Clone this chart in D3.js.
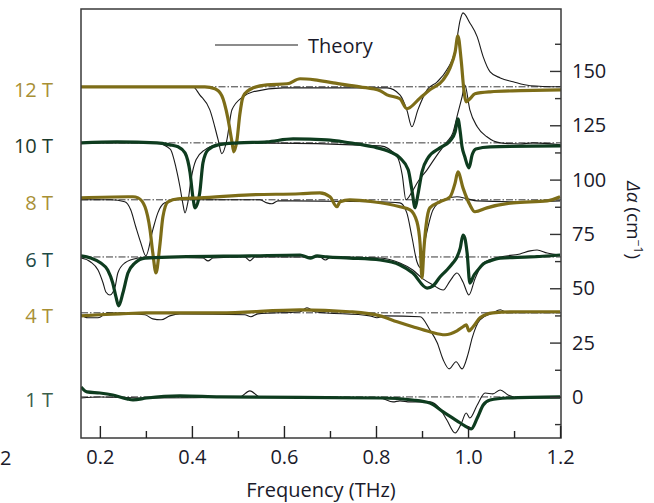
<!DOCTYPE html>
<html>
<head>
<meta charset="utf-8">
<script src="https://cdn.jsdelivr.net/npm/d3@7"></script>
<style>
  body { margin: 0; background: #fff; }
  text { font-family: "Open Sans", "Noto Sans", sans-serif; }
</style>
</head>
<body>
<svg id="chart" width="654" height="503"></svg>
<script>
// field labels and the vertical offset of each trace (cm^-1)
var fields = ["12 T", "10 T", "8 T", "6 T", "4 T", "1 T"];
var offsets = [142.7, 116.9, 90.7, 64.4, 38.7, 0];

var xTicks = [0.2, 0.4, 0.6, 0.8, 1.0, 1.2];
var xMinor = [0.3, 0.5, 0.7, 0.9, 1.1];
var yTicks = [0, 25, 50, 75, 100, 125, 150];
var yMinor = [-12.5, 12.5, 37.5, 62.5, 87.5, 112.5, 137.5, 162.5];

// [frequency THz, delta alpha relative to the trace baseline]
var exp12 = [[0.159,0],[0.309,0],[0.428,0],[0.450,-0.9],[0.465,-4.1],[0.478,-14.3],[0.487,-25.3],[0.491,-29.9],[0.498,-24.4],[0.504,-12.9],[0.511,-4.6],[0.522,-1.8],[0.533,-0.5],[0.563,0.9],[0.607,1.4],[0.635,3.7],[0.667,3.2],[0.707,1.8],[0.765,0],[0.809,-1.8],[0.824,-3.7],[0.852,-5.5],[0.867,-10.1],[0.896,-5.1],[0.917,-1.4],[0.946,3.2],[0.961,8.7],[0.972,16.1],[0.978,23.5],[0.985,12.4],[0.991,-1.4],[0.996,-6.9],[1.004,-5.5],[1.015,-3.2],[1.048,-2.3],[1.113,-1.8],[1.202,-1.4]];
var thy12 = [[0.159,0],[0.402,0],[0.417,-3.7],[0.439,-10.6],[0.457,-24.4],[0.465,-30.8],[0.476,-24.4],[0.487,-10.6],[0.511,-4.6],[0.533,-2.3],[0.598,-0.5],[0.824,-0.5],[0.852,-3.7],[0.867,-10.6],[0.878,-18.4],[0.891,-10.6],[0.911,-1.4],[0.933,2.3],[0.954,7.8],[0.972,17.0],[0.983,30.8],[0.989,34.0],[1.004,29.4],[1.020,23.0],[1.033,13.8],[1.048,6.9],[1.070,4.1],[1.098,2.3],[1.135,0.5],[1.200,0]];

var exp10 = [[0.159,0],[0.237,0.5],[0.324,0],[0.352,-0.9],[0.370,-1.8],[0.385,-4.6],[0.396,-13.8],[0.402,-24.8],[0.407,-29.9],[0.417,-23.0],[0.424,-9.2],[0.435,-3.2],[0.457,-0.9],[0.500,0],[0.563,0.5],[0.620,1.8],[0.693,1.4],[0.743,0],[0.793,-1.8],[0.830,-4.1],[0.852,-6.9],[0.870,-12.4],[0.878,-21.6],[0.885,-29.9],[0.891,-23.9],[0.900,-13.3],[0.913,-6.9],[0.939,-2.3],[0.961,0.9],[0.972,5.1],[0.978,11.0],[0.983,5.1],[0.987,-1.8],[0.993,-6.4],[1.002,-11.5],[1.009,-5.5],[1.017,-2.8],[1.048,-1.8],[1.202,-1.4]];
var thy10 = [[0.159,0],[0.324,0],[0.346,-1.8],[0.354,-3.2],[0.365,-11.0],[0.374,-20.2],[0.380,-27.6],[0.385,-32.2],[0.391,-27.6],[0.398,-17.0],[0.409,-7.8],[0.428,-3.2],[0.457,-0.9],[0.526,0],[0.809,-1.4],[0.846,-6.4],[0.857,-14.7],[0.865,-26.2],[0.878,-22.6],[0.891,-17.9],[0.911,-12.4],[0.933,-5.5],[0.954,0.5],[0.967,4.6],[0.978,13.8],[0.987,21.2],[0.993,26.7],[1.004,15.2],[1.020,7.4],[1.041,2.8],[1.070,0],[1.113,-0.5],[1.141,0],[1.200,-0.9]];

var exp8 = [[0.159,0.9],[0.261,1.4],[0.272,1.4],[0.283,0.9],[0.298,-3.2],[0.309,-13.8],[0.315,-24.4],[0.322,-33.6],[0.330,-21.6],[0.337,-7.8],[0.348,-0.9],[0.370,0.5],[0.417,0.9],[0.526,2.3],[0.635,2.8],[0.678,3.2],[0.700,1.4],[0.715,-3.2],[0.722,-0.9],[0.743,0],[0.793,-0.9],[0.852,-3.2],[0.874,-4.6],[0.889,-10.1],[0.896,-20.7],[0.900,-35.9],[0.904,-23.0],[0.909,-11.5],[0.917,-3.7],[0.939,-0.9],[0.961,1.4],[0.972,7.8],[0.978,12.9],[0.989,5.5],[1.004,-2.3],[1.015,-5.5],[1.041,-3.7],[1.098,-1.4],[1.172,-0.5],[1.200,1.4]];
var thy8 = [[0.159,0],[0.224,0],[0.254,-0.9],[0.267,-4.6],[0.278,-12.4],[0.289,-19.8],[0.300,-25.8],[0.315,-13.8],[0.326,-6.0],[0.341,-1.4],[0.370,0],[0.548,0],[0.563,-1.4],[0.574,-1.8],[0.587,-0.5],[0.809,-0.9],[0.852,-1.4],[0.867,-6.0],[0.878,-17.0],[0.889,-28.5],[0.896,-31.1],[0.907,-18.4],[0.924,-4.6],[0.946,0],[0.976,1.4],[0.998,0.5],[1.020,-0.5],[1.098,-0.9],[1.200,-0.5]];

var exp6 = [[0.159,0.5],[0.180,-0.5],[0.202,-2.8],[0.217,-6.0],[0.228,-12.0],[0.235,-18.4],[0.241,-22.5],[0.250,-16.6],[0.261,-7.4],[0.276,-2.8],[0.298,-0.5],[0.370,0],[0.526,0.5],[0.635,0.9],[0.657,-0.5],[0.672,0.5],[0.693,0],[0.743,-0.5],[0.809,-1.4],[0.852,-3.7],[0.880,-7.4],[0.911,-14.3],[0.924,-13.3],[0.939,-9.2],[0.954,-6.0],[0.967,-2.8],[0.976,0],[0.983,4.1],[0.989,10.1],[0.993,8.7],[0.998,1.8],[1.004,-12.0],[1.013,-8.3],[1.020,-6.4],[1.033,-3.2],[1.048,-1.8],[1.070,-0.5],[1.135,0],[1.200,0.9]];
var thy6 = [[0.159,-0.5],[0.180,-2.3],[0.196,-6.0],[0.207,-12.0],[0.213,-16.1],[0.222,-17.5],[0.233,-13.8],[0.239,-7.4],[0.254,-2.8],[0.283,-0.5],[0.309,0],[0.424,-0.5],[0.435,-1.8],[0.446,-0.5],[0.515,0],[0.526,-1.8],[0.537,0],[0.678,0],[0.690,-1.4],[0.702,0],[0.809,-0.5],[0.852,-2.8],[0.880,-6.0],[0.902,-10.1],[0.924,-12.9],[0.946,-15.2],[0.961,-11.0],[0.976,-7.4],[0.989,-11.5],[1.002,-17.5],[1.015,-10.1],[1.033,-2.8],[1.070,0],[1.113,1.4],[1.135,2.8],[1.150,3.2],[1.172,1.8],[1.200,0.9]];

var exp4 = [[0.159,-1.4],[0.200,-0.9],[0.243,-0.5],[0.302,0],[0.461,0],[0.635,1.4],[0.743,0.5],[0.809,-1.4],[0.846,-4.1],[0.880,-6.4],[0.917,-8.7],[0.950,-10.1],[0.976,-8.3],[0.989,-6.4],[0.996,-5.5],[1.002,-8.3],[1.011,-6.4],[1.026,-2.3],[1.054,0],[1.113,0.5],[1.200,0.5]];
var thy4 = [[0.159,-0.9],[0.174,-2.3],[0.196,-2.3],[0.217,0],[0.298,-0.9],[0.315,-2.8],[0.333,-3.2],[0.352,-1.4],[0.374,-0.5],[0.515,-0.9],[0.528,-1.8],[0.543,-0.5],[0.635,0.5],[0.650,2.3],[0.667,0.5],[0.787,-1.4],[0.802,-2.3],[0.820,-1.4],[0.896,-1.8],[0.917,-7.8],[0.933,-13.8],[0.946,-21.6],[0.959,-25.8],[0.974,-22.5],[0.987,-25.8],[1.000,-19.0],[1.009,-11.5],[1.026,-3.2],[1.054,0],[1.070,1.4],[1.085,0],[1.200,0]];

var exp1 = [[0.159,4.6],[0.172,2.3],[0.200,1.8],[0.228,0.9],[0.259,-0.9],[0.272,-1.4],[0.302,-0.5],[0.374,0.5],[0.461,0],[0.809,-0.5],[0.880,-1.4],[0.917,-2.8],[0.946,-6.9],[0.976,-11.0],[0.993,-13.3],[1.007,-14.7],[1.020,-9.7],[1.033,-3.7],[1.048,-1.4],[1.085,-0.5],[1.200,0]];
var thy1 = [[0.159,-0.5],[0.200,0],[0.309,-0.5],[0.504,0],[0.526,2.8],[0.548,0],[0.809,-0.5],[0.837,-2.3],[0.852,-1.8],[0.874,-2.3],[0.917,-2.3],[0.939,-5.5],[0.954,-10.6],[0.972,-16.6],[0.985,-12.4],[0.996,-7.4],[1.004,-9.7],[1.020,-3.7],[1.037,1.8],[1.054,1.4],[1.070,3.2],[1.087,0.9],[1.113,-0.5],[1.200,-0.5]];

var expData = [exp12, exp10, exp8, exp6, exp4, exp1];
var thyData = [thy12, thy10, thy8, thy6, thy4, thy1];

var olive = "#7d6d18", darkGreen = "#0e3c1f";
var lineColors = [olive, darkGreen, olive, darkGreen, olive, darkGreen];
var labelColors = ["#a88f34", "#1c3a2c", "#a88f34", "#1d4a46", "#a88f34", "#3c5e4a"];

var width = 654, height = 503,
    margin = { left: 81, right: 93, top: 9, bottom: 65 };
var w = width - margin.left - margin.right,
    h = height - margin.top - margin.bottom;

var svg = d3.select("#chart");
var g = svg.append("g").attr("transform", "translate(" + margin.left + "," + margin.top + ")");

var xScale = d3.scaleLinear().domain([0.159, 1.202]).range([0, w]);
var yScale = d3.scaleLinear().domain([-18.9, 178.5]).range([h, 0]);

var clip = g.append("clipPath").attr("id", "plotclip");
clip.append("rect").attr("width", w).attr("height", h);

// dash-dot baselines
g.selectAll(".base")
    .data(offsets)
    .enter().append("line")
    .attr("class", "base")
    .attr("x1", 0).attr("x2", w)
    .attr("y1", function(d){ return yScale(d); })
    .attr("y2", function(d){ return yScale(d); })
    .attr("stroke", "#222")
    .attr("stroke-width", 0.9)
    .attr("stroke-dasharray", "7,2,1.5,2");

var lineFor = function(off){
    return d3.line()
        .x(function(d){ return xScale(d[0]); })
        .y(function(d){ return yScale(d[1] + off); })
        .curve(d3.curveMonotoneX);
};

var plot = g.append("g").attr("clip-path", "url(#plotclip)");

thyData.forEach(function(arr, i){
    plot.append("path")
        .attr("d", lineFor(offsets[i])(arr))
        .attr("fill", "none")
        .attr("stroke", "#1a1a1a")
        .attr("stroke-width", 1.1);
});

expData.forEach(function(arr, i){
    plot.append("path")
        .attr("d", lineFor(offsets[i])(arr))
        .attr("fill", "none")
        .attr("stroke", lineColors[i])
        .attr("stroke-width", 3.2)
        .attr("stroke-linejoin", "round");
});

// frame
g.append("rect")
    .attr("width", w).attr("height", h)
    .attr("fill", "none")
    .attr("stroke", "#3a3a3a")
    .attr("stroke-width", 1.5);

// bottom axis, ticks inside
var xAxis = d3.axisBottom(xScale)
    .tickValues(xTicks)
    .tickFormat(d3.format(".1f"))
    .tickSizeInner(-12).tickSizeOuter(0).tickPadding(12);
var gx = g.append("g").attr("transform", "translate(0," + h + ")").call(xAxis);
gx.select(".domain").remove();
gx.selectAll("line").attr("stroke", "#222").attr("stroke-width", 1.4);
gx.selectAll("text").attr("font-size", 20).attr("fill", "#1a1a2a")
    .attr("font-family", "'Open Sans', sans-serif");

var gxm = g.append("g").attr("transform", "translate(0," + h + ")")
    .call(d3.axisBottom(xScale).tickValues(xMinor).tickFormat("").tickSizeInner(-7).tickSizeOuter(0));
gxm.select(".domain").remove();
gxm.selectAll("line").attr("stroke", "#222").attr("stroke-width", 1.4);

// right axis, ticks inside
var yAxis = d3.axisRight(yScale)
    .tickValues(yTicks)
    .tickSizeInner(-11).tickSizeOuter(0).tickPadding(11);
var gy = g.append("g").attr("transform", "translate(" + w + ",0)").call(yAxis);
gy.select(".domain").remove();
gy.selectAll("line").attr("stroke", "#333").attr("stroke-width", 1.4);
gy.selectAll("text").attr("font-size", 20).attr("fill", "#1a1a2a")
    .attr("font-family", "'Open Sans', sans-serif");

var gym = g.append("g").attr("transform", "translate(" + w + ",0)")
    .call(d3.axisRight(yScale).tickValues(yMinor).tickFormat("").tickSizeInner(-6).tickSizeOuter(0));
gym.select(".domain").remove();
gym.selectAll("line").attr("stroke", "#333").attr("stroke-width", 1.4);

// field labels on the left
svg.selectAll(".field")
    .data(fields)
    .enter().append("text")
    .attr("class", "field")
    .attr("x", 53)
    .attr("y", function(d, i){ return margin.top + yScale(offsets[i]) + 10; })
    .attr("text-anchor", "end")
    .attr("font-size", 20)
    .attr("fill", function(d, i){ return labelColors[i]; })
    .text(function(d){ return d; });

// legend
svg.append("line")
    .attr("x1", 215).attr("x2", 298).attr("y1", 45).attr("y2", 45)
    .attr("stroke", "#1a1a1a").attr("stroke-width", 1.2);
svg.append("text")
    .attr("x", 308).attr("y", 53)
    .attr("font-size", 20).attr("fill", "#1a1a2a")
    .text("Theory");

// axis titles
svg.append("text")
    .attr("x", margin.left + w / 2).attr("y", 497)
    .attr("text-anchor", "middle")
    .attr("font-size", 20).attr("fill", "#1a1a2a")
    .text("Frequency (THz)");

var yl = svg.append("text")
    .attr("transform", "translate(627,220) rotate(90)")
    .attr("text-anchor", "middle")
    .attr("font-size", 19).attr("fill", "#1a1a2a");
yl.append("tspan").attr("font-style", "italic").text("Δα");
yl.append("tspan").text(" (cm");
yl.append("tspan").attr("font-size", 12).attr("dy", -7).text("−1");
yl.append("tspan").attr("dy", 7).text(")");

// stray tick label of the neighbouring panel at the far left edge
svg.append("text")
    .attr("x", 0).attr("y", 465)
    .attr("font-size", 20).attr("fill", "#1a1a2a")
    .text("2");
</script>
</body>
</html>
